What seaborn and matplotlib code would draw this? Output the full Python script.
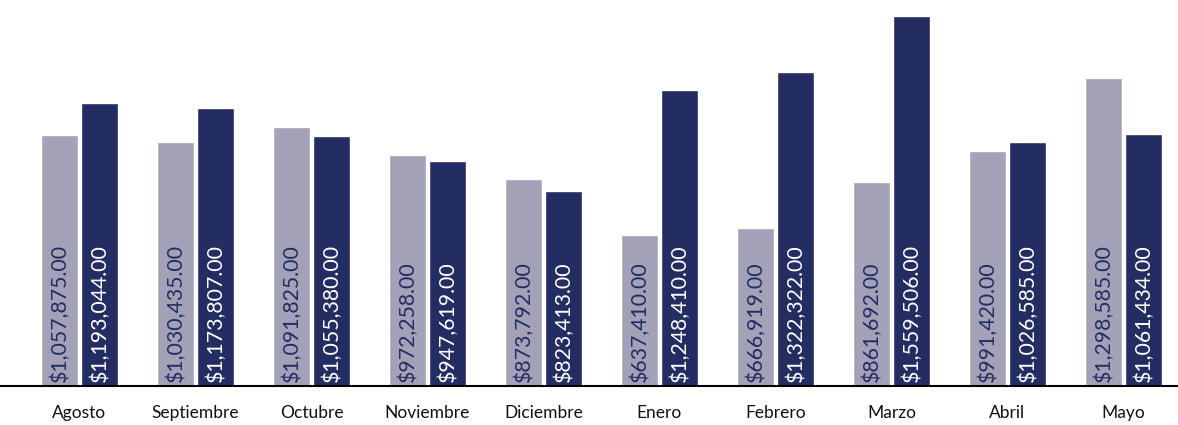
import pandas as pd
import seaborn as sns
import matplotlib.pyplot as plt

meses = ['Agosto', 'Septiembre', 'Octubre', 'Noviembre', 'Diciembre',
         'Enero', 'Febrero', 'Marzo', 'Abril', 'Mayo']
anterior = [1057875.00, 1030435.00, 1091825.00, 972258.00, 873792.00,
            637410.00, 666919.00, 861692.00, 991420.00, 1298585.00]
actual = [1193044.00, 1173807.00, 1055380.00, 947619.00, 823413.00,
          1248410.00, 1322322.00, 1559506.00, 1026585.00, 1061434.00]

claro = '#a3a1b7'
oscuro = '#232d62'

df = pd.DataFrame({
    'Mes': meses * 2,
    'Serie': ['Anterior'] * len(meses) + ['Actual'] * len(meses),
    'Monto': anterior + actual,
})

sns.set_style('white')
plt.rcParams['font.family'] = ['Lato', 'DejaVu Sans']

fig = plt.figure(figsize=(11.78, 4.25), dpi=100)
ax = fig.add_axes([0, 39 / 425, 1, 1 - 39 / 425])

sns.barplot(data=df, x='Mes', y='Monto', hue='Serie', palette=[claro, oscuro],
            width=0.69, gap=0.075, saturation=1, legend=False, ax=ax)

# etiquetas de valor dentro de cada barra
for cont, vals, col in zip(ax.containers, [anterior, actual], [oscuro, 'white']):
    for bar, v in zip(cont, vals):
        ax.annotate(f'${v:,.2f}', (bar.get_x() + bar.get_width() / 2, 0),
                    xytext=(0, 3), textcoords='offset points',
                    rotation=90, ha='center', va='bottom',
                    color=col, fontsize=15.3)

ax.set_xlim(-0.685, 9.47)
ax.set_ylim(0, 1626930)
ax.set_xlabel('')
ax.set_ylabel('')
ax.set_yticks([])
ax.tick_params(axis='x', length=0, pad=14, labelsize=12.5, labelcolor='#111111')
for s in ['top', 'left', 'right']:
    ax.spines[s].set_visible(False)
ax.spines['bottom'].set_color('black')
ax.spines['bottom'].set_linewidth(1.5)

fig.savefig('out.png', dpi=100)
